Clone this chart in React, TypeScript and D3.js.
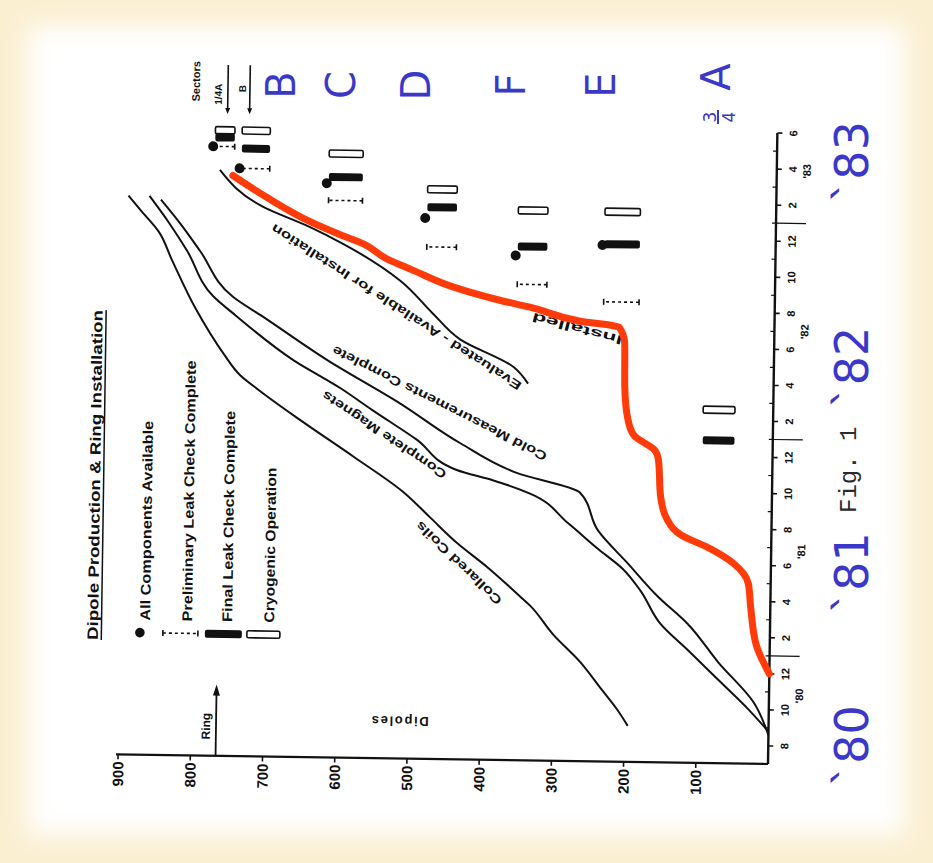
import * as d3 from "d3";

const W = 933;
const H = 863;

// time runs in months counted from January 1980 (7 = Aug '80, 41 = Jun '83)
type Pt = [number, number];

const collaredCoils: Pt[] = [
  [8.0, 195], [8.9, 210], [10, 232], [11.5, 262], [13, 300], [14.6, 333], [15.1, 347],
  [16.7, 393], [18, 435], [19.4, 473], [20.8, 511], [22.7, 580], [24.7, 655], [26.3, 712],
  [27.1, 738], [28.3, 762], [30.8, 802], [33.5, 836], [35, 854], [36.2, 880], [37, 897],
];
const completeMagnets: Pt[] = [
  [7.8, 0], [9, 28], [10.6, 70], [12.2, 112], [13.7, 152], [15.5, 180], [16.7, 205],
  [17.8, 240], [19.2, 282], [20.8, 335], [21.5, 386], [22.05, 437], [23.7, 493], [25.3, 555],
  [26.5, 600], [28, 665], [30.4, 745], [31.5, 778], [34, 815], [35.5, 840], [37, 868],
];
const coldMeasurements: Pt[] = [
  [7.6, 0], [9.4, 21], [11.6, 71], [13.7, 114], [15.2, 156], [17, 198], [18.8, 240],
  [20.9, 266], [21.94, 354], [23.55, 433], [25.7, 517], [28.05, 619], [30.38, 708],
  [31.46, 750], [34, 797], [35.5, 825], [36.8, 852],
];
const evaluated: Pt[] = [
  [26.9, 340], [27.8, 360], [29.3, 435], [30.7, 473], [32.5, 519], [34.5, 599],
  [35.4, 645], [36.5, 711], [38.5, 771],
];
const installed: Pt[] = [
  [11, 0], [12.5, 18], [14.6, 27], [16, 31], [17.1, 52], [18, 90], [18.6, 124], [19.5, 145],
  [20.7, 154], [22.8, 158], [23.3, 163], [24.1, 192], [25, 201], [26.8, 206], [29.2, 207],
  [30.1, 215], [30.4, 269], [31.1, 335], [31.5, 381], [32.2, 446], [33.1, 502], [33.7, 538],
  [34.5, 570], [35, 603], [35.7, 645], [37, 705], [38.2, 753],
];

const countTicks = [100, 200, 300, 400, 500, 600, 700, 800, 900];
const monthTickValues = d3.range(7, 42, 2);
const monthTickLabels = ["8", "10", "12", "2", "4", "6", "8", "10", "12", "2", "4", "6", "8", "10", "12", "2", "4", "6"];
const minorMonthValues = d3.range(8, 41, 2);
const yearStarts = [12, 24, 36];
const yearLabels = ["'80", "'81", "'82", "'83"];
const yearLabelAt = [9.8, 17.8, 30, 38.9];
const ringCount = 765;

// sector milestones
const sectorNames = ["3/4A", "E", "F", "D", "C", "B", "1/4A"];
const sectorLo = [53, 188, 316, 442, 573, 702, 751];
const sectorHi = [97, 237, 357, 483, 620, 741, 778];
const allComponents = [NaN, 34.65, 34.0, 36.0, 37.85, 38.6, 39.8];
const prelimLeak = [NaN, 31.5, 32.4, 34.4, 36.9, 38.6, 39.8];
const finalLeak = [23.9, 34.7, 34.5, 36.6, 38.2, 39.7, 40.3];
const cryoOp = [25.6, 36.5, 36.5, 37.6, 39.5, 40.7, 40.7];

const legendLabels = [
  "All Components Available",
  "Preliminary Leak Check Complete",
  "Final Leak Check Complete",
  "Cryogenic Operation",
];

// curve labels: [text, month, count, angle, length]
const curveLabels: [string, number, number, number, number][] = [
  ["Collared Coils", 16.9, 432, -47, 114],
  ["Complete Magnets", 23.95, 538, -57, 147],
  ["Cold Measurements Complete", 25.75, 462, -64, 239],
  ["Evaluated - Available for Installation", 31.05, 524, -58, 295],
  ["Installed", 30.0, 273, -76, 93],
];

// hand-written overlay
const handYears = ["`80", "`81", "`82", "`83"];
const handYearAt = [7, 16.6, 28, 39.4];
const handSectors = ["B", "C", "D", "F", "E"];
const handSectorAt = [676, 593, 489, 357, 233];

const x = d3.scaleLinear().domain([6, 41]).range([99, 730]);
const y = d3.scaleLinear().domain([0, 900]).range([768, 118]);

const curve = d3
  .line<Pt>()
  .x((d) => x(d[0]))
  .y((d) => y(d[1]))
  .curve(d3.curveMonotoneX);

const INK = "#111";
const BLUE = "#3a38c8";
const FONT = "'Liberation Sans', Arial, sans-serif";

function Prelim({ t, lo, hi }: { t: number; lo: number; hi: number }) {
  const cx = x(t);
  return (
    <g stroke={INK} strokeWidth={1.6}>
      <line x1={cx} x2={cx} y1={y(lo)} y2={y(hi)} strokeDasharray="3 3" />
      <line x1={cx - 3} x2={cx + 3} y1={y(lo)} y2={y(lo)} />
      <line x1={cx - 3} x2={cx + 3} y1={y(hi)} y2={y(hi)} />
    </g>
  );
}

function FinalBar({ t, lo, hi }: { t: number; lo: number; hi: number }) {
  return <rect x={x(t) - 4} width={8} y={y(hi)} height={y(lo) - y(hi)} rx={2} fill={INK} />;
}

function CryoBar({ t, lo, hi }: { t: number; lo: number; hi: number }) {
  return (
    <rect x={x(t) - 3.5} width={7} y={y(hi)} height={y(lo) - y(hi)} rx={1.5} fill="#fff" stroke={INK} strokeWidth={1.6} />
  );
}

function Chart() {
  const x0 = x.range()[0];
  const y0 = y.range()[0];
  return (
    <g fontFamily={FONT} fontWeight={700} fill={INK}>
      {/* axes */}
      <line x1={x0} x2={x0} y1={y0} y2={y(900) - 2} stroke={INK} strokeWidth={2.2} />
      <line x1={x0} x2={x(41)} y1={y0} y2={y0} stroke={INK} strokeWidth={2.4} />
      {countTicks.map((c) => (
        <g key={c}>
          <line x1={x0 - 5} x2={x0} y1={y(c)} y2={y(c)} stroke={INK} strokeWidth={1.6} />
          <text x={x0 - 7} y={y(c)} textAnchor="end" dominantBaseline="central" fontSize={15}>
            {c}
          </text>
        </g>
      ))}
      {monthTickValues.map((t, i) => (
        <g key={t}>
          <line x1={x(t)} x2={x(t)} y1={y0} y2={y0 + 5} stroke={INK} strokeWidth={1.6} />
          <text x={x(t)} y={y0 + 16} textAnchor="middle" dominantBaseline="central" fontSize={11}>
            {monthTickLabels[i]}
          </text>
        </g>
      ))}
      {minorMonthValues.map((t) => (
        <line key={t} x1={x(t)} x2={x(t)} y1={y0} y2={y0 - 4} stroke={INK} strokeWidth={1.2} />
      ))}
      {yearStarts.map((t) => (
        <line key={t} x1={x(t)} x2={x(t)} y1={y0} y2={y0 + 30} stroke={INK} strokeWidth={1.2} />
      ))}
      {yearLabels.map((s, i) => (
        <text key={s} x={x(yearLabelAt[i])} y={y0 + 30} textAnchor="middle" dominantBaseline="central" fontSize={11}>
          {s}
        </text>
      ))}

      {/* ring arrow */}
      <line x1={x0} x2={x(9.7)} y1={y(ringCount)} y2={y(ringCount)} stroke={INK} strokeWidth={1.8} />
      <path d={`M${x(9.95)},${y(ringCount)} l-11,-3.5 l0,7 z`} fill={INK} />
      <text x={x(6.9)} y={y(ringCount) - 6} fontSize={12}>
        Ring
      </text>
      <text
        transform={`translate(${x0 + 42},${y(510)}) rotate(-90)`}
        textAnchor="middle"
        fontSize={13}
        textLength={57}
      >
        Dipoles
      </text>

      {/* title + legend */}
      <text x={213} y={96} fontSize={15} textLength={330} lengthAdjust="spacingAndGlyphs">
        Dipole Production &amp; Ring Installation
      </text>
      <line x1={213} x2={543} y1={99.5} y2={99.5} stroke={INK} strokeWidth={1.5} />
      <circle cx={221} cy={138} r={4.8} />
      <g stroke={INK} strokeWidth={1.6}>
        <line x1={221} x2={221} y1={161} y2={196} strokeDasharray="3 3" />
        <line x1={218} x2={224} y1={161} y2={161} />
        <line x1={218} x2={224} y1={196} y2={196} />
      </g>
      <rect x={217} y={203} width={8} height={37} rx={2} />
      <rect x={217.5} y={245} width={7} height={33} rx={1.5} fill="#fff" stroke={INK} strokeWidth={1.6} />
      {legendLabels.map((s, i) => (
        <text key={s} x={233} y={[148, 190, 230, 272][i]} fontSize={14} textLength={[200, 261, 211, 155][i]} lengthAdjust="spacingAndGlyphs">
          {s}
        </text>
      ))}

      {/* sectors key */}
      <text x={753} y={190} fontSize={11}>
        Sectors
      </text>
      <text x={750} y={212} fontSize={10}>
        1/4A
      </text>
      <text x={763} y={236} fontSize={10}>
        B
      </text>
      {[218, 240].map((yy) => (
        <g key={yy}>
          <line x1={744} x2={790} y1={yy} y2={yy} stroke={INK} strokeWidth={1.6} />
          <path d={`M741,${yy} l6,-2.5 l0,5 z`} />
        </g>
      ))}

      {/* curves */}
      {[collaredCoils, completeMagnets, coldMeasurements, evaluated].map((d, i) => (
        <path key={i} d={curve(d) ?? ""} fill="none" stroke={INK} strokeWidth={2} />
      ))}
      {curveLabels.map(([s, t, c, a, len]) => (
        <text
          key={s}
          transform={`translate(${x(t)},${y(c)}) rotate(${a})`}
          textAnchor="middle"
          dominantBaseline="central"
          fontSize={12.5}
          textLength={len}
          lengthAdjust="spacingAndGlyphs"
        >
          {s}
        </text>
      ))}

      {/* sector milestones */}
      {sectorNames.map((s, i) => (
        <g key={s}>
          {!isNaN(prelimLeak[i]) && <Prelim t={prelimLeak[i]} lo={sectorLo[i]} hi={sectorHi[i]} />}
          <FinalBar t={finalLeak[i]} lo={sectorLo[i]} hi={sectorHi[i]} />
          <CryoBar t={cryoOp[i]} lo={sectorLo[i]} hi={sectorHi[i]} />
          {!isNaN(allComponents[i]) && <circle cx={x(allComponents[i])} cy={y(sectorHi[i]) - 2} r={5} />}
        </g>
      ))}

      {/* red marker over installed */}
      <path
        d={curve(installed) ?? ""}
        fill="none"
        stroke="#ff3b0a"
        strokeWidth={7}
        strokeLinecap="round"
        strokeLinejoin="round"
      />
    </g>
  );
}

function Overlay() {
  return (
    <g fontFamily="'DejaVu Sans', sans-serif" fill={BLUE}>
      {handYears.map((s, i) => (
        <text key={s} x={x(handYearAt[i])} y={868} textAnchor="middle" fontSize={46}>
          {s}
        </text>
      ))}
      {handSectors.map((s, i) => (
        <text key={s} x={778} y={y(handSectorAt[i]) + 15} textAnchor="middle" fontSize={40}>
          {s}
        </text>
      ))}
      <text x={786} y={730} textAnchor="middle" fontSize={40}>
        A
      </text>
      <text x={746} y={716} textAnchor="middle" fontSize={17}>
        3
      </text>
      <line x1={739} x2={753} y1={718} y2={718} stroke={BLUE} strokeWidth={2} />
      <text x={746} y={735} textAnchor="middle" fontSize={17}>
        4
      </text>
      <text x={350} y={856} fontFamily="'Liberation Mono', monospace" fontSize={24} fill="#2a2a2a">
        Fig. 1
      </text>
    </g>
  );
}

export default function App() {
  return (
    <svg width={W} height={H} style={{ position: "absolute", left: 0, top: 0 }}>
      <defs>
        <filter id="soft" x="-5%" y="-5%" width="110%" height="110%">
          <feGaussianBlur stdDeviation="12" />
        </filter>
      </defs>
      <rect width={W} height={H} fill="#fbefd2" />
      <rect x={28} y={26} width={W - 56} height={H - 54} fill="#fff" filter="url(#soft)" />
      <g transform="rotate(0.85, 768, 764)">
        <g transform={`translate(0, ${H}) rotate(-90)`}>
          <Chart />
        </g>
      </g>
      <g transform={`translate(0, ${H}) rotate(-90)`}>
        <Overlay />
      </g>
    </svg>
  );
}
